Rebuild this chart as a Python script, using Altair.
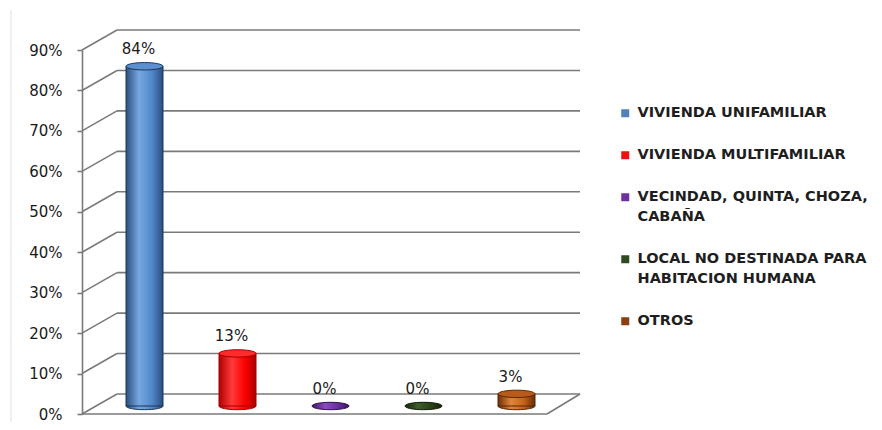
import altair as alt
import pandas as pd

categories = [
    "VIVIENDA UNIFAMILIAR",
    "VIVIENDA MULTIFAMILIAR",
    "VECINDAD, QUINTA, CHOZA, CABAÑA",
    "LOCAL NO DESTINADA PARA HABITACION HUMANA",
    "OTROS",
]
values = [0.84, 0.13, 0.0, 0.0, 0.03]
legend_colors = ["#4F81BD", "#F01010", "#7030A0", "#2E4A1E", "#8B3E0E"]
legend_lines = [
    ["VIVIENDA UNIFAMILIAR"],
    ["VIVIENDA MULTIFAMILIAR"],
    ["VECINDAD, QUINTA, CHOZA,", "CABAÑA"],
    ["LOCAL NO DESTINADA PARA", "HABITACION HUMANA"],
    ["OTROS"],
]
# cylinder shading: edge, highlight, body, edge
grad_stops = [
    ["#2A4F80", "#77A7E0", "#5288CA", "#2A4E7E"],
    ["#B00000", "#FF3A3A", "#FF0000", "#A80000"],
    ["#3E1566", "#8A4CC0", "#6A2E9E", "#3A1260"],
    ["#14260C", "#3E5E2C", "#2A4019", "#112008"],
    ["#6E3005", "#E08638", "#C4621A", "#6A2E05"],
]
top_colors = ["#5B8FD2", "#FF2A2A", "#5E2A8E", "#22361A", "#B85A18"]
stroke_colors = ["#1C355A", "#A00000", "#2E0E4E", "#0C1806", "#5A2604"]
ticks = [0.0, 0.1, 0.2, 0.3, 0.4, 0.5, 0.6, 0.7, 0.8, 0.9]

W, H = 465, 364
DX, DY = 35, -20        # depth offset of back wall
BACK_R = 498            # back wall right end
BW = 37                 # bar width
XO, YO = 16, -8         # bars sit mid-depth

df = pd.DataFrame({"cat": categories, "val": values})
tdf = pd.DataFrame({"t": ticks})

FONT = "DejaVu Sans"
xs = alt.X("cat:N", sort=categories, axis=None,
           scale=alt.Scale(paddingInner=0, paddingOuter=0))
ys = alt.Scale(domain=[0, 0.9], nice=False, zero=True)

base = alt.Chart(df)

back = alt.Chart(tdf).mark_rule(color="#7A7A7A", strokeWidth=1.6, yOffset=DY).encode(
    x=alt.value(DX), x2=alt.value(BACK_R), y=alt.Y("t:Q", scale=ys)
)
diag = alt.Chart(tdf).mark_rule(color="#7A7A7A", strokeWidth=1.6, y2Offset=DY).encode(
    x=alt.value(0), x2=alt.value(DX), y=alt.Y("t:Q", scale=ys), y2="t:Q"
)
floor_df = pd.DataFrame({"t": [0.0]})
floor_right = alt.Chart(floor_df).mark_rule(color="#7A7A7A", strokeWidth=1.6, y2Offset=DY).encode(
    x=alt.value(W), x2=alt.value(BACK_R), y=alt.Y("t:Q", scale=ys), y2="t:Q"
)
floor_front = alt.Chart(floor_df).mark_rule(color="#7A7A7A", strokeWidth=1.6).encode(
    x=alt.value(0), x2=alt.value(W), y=alt.Y("t:Q", scale=ys)
)
frame = alt.Chart(floor_df).mark_rule(color="#E2E2E2", strokeWidth=1).encode(
    x=alt.value(-71), y=alt.value(-40), y2=alt.value(H + 20)
)

yaxis_layer = alt.Chart(tdf).mark_point(opacity=0).encode(
    y=alt.Y("t:Q", scale=ys,
            axis=alt.Axis(values=ticks, format=".0%", grid=False, domainColor="#7A7A7A",
                          domainWidth=1.6, tickColor="#7A7A7A", tickWidth=1.6, tickSize=5,
                          labelPadding=15, labelFont=FONT, labelFontSize=15,
                          labelColor="#1A1A1A", title=None))
)

ellipse = "M -1 0 A 1 0.2 0 1 0 1 0 A 1 0.2 0 1 0 -1 0 Z"
ES = BW * BW

legend_bar = base.mark_bar(width=BW, xOffset=XO, yOffset=YO, y2Offset=YO).encode(
    x=xs,
    y=alt.Y("val:Q", scale=ys),
    y2=alt.datum(0),
    color=alt.Color("cat:N", sort=categories,
                    scale=alt.Scale(domain=categories, range=legend_colors),
                    legend=alt.Legend(
                        title=None, orient="none", legendX=536, legendY=56,
                        symbolType="square", symbolSize=64, symbolStrokeWidth=0.8,
                        labelFont=FONT, labelFontSize=14.5, labelFontWeight="bold",
                        labelColor="#1E1E1E", rowPadding=27, labelLimit=400,
                        labelOffset=5,
                        labelExpr=(
                            "datum.label == '" + categories[2] + "' ? ['" + "','".join(legend_lines[2]) + "'] : "
                            "datum.label == '" + categories[3] + "' ? ['" + "','".join(legend_lines[3]) + "'] : datum.label"
                        ),
                    )),
)

layers = [frame, back, diag, floor_right, floor_front, yaxis_layer]

def gradient(i):
    return alt.Gradient(
        gradient="linear", x1=0, x2=1, y1=0, y2=0,
        stops=[alt.GradientStop(offset=0, color=grad_stops[i][0]),
               alt.GradientStop(offset=0.35, color=grad_stops[i][1]),
               alt.GradientStop(offset=0.7, color=grad_stops[i][2]),
               alt.GradientStop(offset=1, color=grad_stops[i][3])],
    )

for i, c in enumerate(categories):
    sub = base.transform_filter(alt.datum.cat == c).transform_calculate(zero="0")
    bottom = sub.mark_point(shape=ellipse, size=ES, filled=True, opacity=1, fill=gradient(i),
                            stroke=stroke_colors[i], strokeWidth=1,
                            xOffset=XO, yOffset=YO).encode(x=xs, y=alt.Y("zero:Q", scale=ys))
    layers.append(bottom)

layers.append(legend_bar)

for i, c in enumerate(categories):
    if values[i] <= 0:
        continue
    sub = base.transform_filter(alt.datum.cat == c)
    body = sub.mark_bar(width=BW, xOffset=XO, yOffset=YO, y2Offset=YO, fill=gradient(i),
                        stroke=stroke_colors[i], strokeWidth=1).encode(
        x=xs, y=alt.Y("val:Q", scale=ys), y2=alt.datum(0)
    )
    top = sub.mark_point(shape=ellipse, size=ES, filled=True, opacity=1,
                         fill=top_colors[i], stroke=stroke_colors[i], strokeWidth=1,
                         xOffset=XO, yOffset=YO).encode(x=xs, y=alt.Y("val:Q", scale=ys))
    layers += [body, top]

labels = base.mark_text(font=FONT, fontSize=15, color="#1A1A1A", baseline="alphabetic",
                        xOffset=XO - 6, yOffset=YO - 12).encode(
    x=xs, y=alt.Y("val:Q", scale=ys), text=alt.Text("val:Q", format=".0%")
)
layers.append(labels)

chart = alt.layer(*layers).properties(
    width=W, height=H,
    padding={"left": 74, "top": 42, "right": 327, "bottom": 8},
    autosize=alt.AutoSizeParams(type="none"),
    background="white",
).configure(
    view=alt.ViewConfig(stroke=None, clip=False),
    style={"guide-label": {"lineHeight": 20}},
)

chart.save("out.html", embed_options={"renderer": "svg", "actions": False})
